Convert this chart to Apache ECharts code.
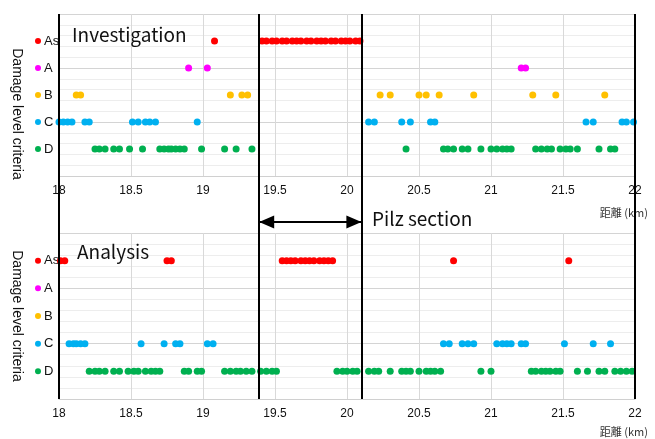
<!DOCTYPE html>
<html>
<head>
<meta charset="utf-8">
<script src="https://cdn.jsdelivr.net/npm/echarts@6/dist/echarts.min.js"></script>
<style>html,body{margin:0;padding:0;background:#fff}#c{width:655px;height:439px}</style>
</head>
<body>
<div id="c"></div>
<script>
// ---- data ----
var levelNames = ['', 'D', 'C', 'B', 'A', 'As', ''];
var levelColors = { As: '#FF0000', A: '#FF00FF', B: '#FFC000', C: '#00B0F0', D: '#00B050' };
var xTicks = [18, 18.5, 19, 19.5, 20, 20.5, 21, 21.5, 22];
var sectionBounds = [19.39, 20.1];
var frameLines = [18, 22];

// Investigation (top)
var invAs = [19.08, 19.41, 19.44, 19.48, 19.51, 19.55, 19.58, 19.62, 19.65, 19.68, 19.72, 19.75, 19.79, 19.82, 19.85, 19.89, 19.92, 19.96, 19.99, 20.02, 20.06, 20.09];
var invA = [18.90, 19.03, 21.21, 21.24];
var invB = [18.12, 18.15, 19.19, 19.27, 19.31, 20.23, 20.30, 20.50, 20.55, 20.64, 20.88, 21.29, 21.45, 21.79];
var invC = [18.00, 18.03, 18.06, 18.09, 18.18, 18.21, 18.51, 18.55, 18.60, 18.63, 18.67, 18.96, 20.15, 20.19, 20.38, 20.44, 20.58, 20.61, 21.66, 21.71, 21.91, 21.94, 21.99];
var invD = [18.25, 18.28, 18.32, 18.38, 18.42, 18.49, 18.58, 18.70, 18.73, 18.76, 18.78, 18.81, 18.84, 18.87, 18.99, 19.15, 19.23, 19.34, 20.41, 20.67, 20.70, 20.74, 20.80, 20.84, 20.93, 21.00, 21.04, 21.08, 21.11, 21.14, 21.31, 21.35, 21.39, 21.42, 21.48, 21.52, 21.55, 21.60, 21.75, 21.83, 21.86];

// Analysis (bottom)
var anaAs = [18.01, 18.04, 18.75, 18.78, 19.55, 19.58, 19.61, 19.64, 19.68, 19.71, 19.74, 19.77, 19.81, 19.84, 19.87, 19.90, 20.74, 21.54];
var anaA = [];
var anaB = [];
var anaC = [18.07, 18.10, 18.12, 18.15, 18.18, 18.57, 18.73, 18.81, 18.84, 19.03, 19.07, 20.67, 20.71, 20.80, 20.84, 20.88, 21.04, 21.08, 21.11, 21.14, 21.21, 21.24, 21.51, 21.71, 21.83];
var anaD = [18.21, 18.25, 18.28, 18.32, 18.38, 18.42, 18.48, 18.52, 18.55, 18.60, 18.64, 18.67, 18.70, 18.87, 18.90, 18.96, 18.99, 19.15, 19.19, 19.23, 19.26, 19.30, 19.34, 19.40, 19.44, 19.48, 19.51, 19.93, 19.97, 20.00, 20.04, 20.07, 20.15, 20.19, 20.22, 20.30, 20.38, 20.41, 20.44, 20.50, 20.55, 20.58, 20.61, 20.65, 20.93, 21.00, 21.28, 21.31, 21.35, 21.38, 21.41, 21.45, 21.48, 21.60, 21.67, 21.75, 21.79, 21.86, 21.90, 21.94, 21.98];

var arrowLevel = 0.46;

// ---- chart ----
var chart = echarts.init(document.getElementById('c'), null, { renderer: 'canvas' });
var FONT = 'Liberation Sans';

function gridX(gi, nameBottomPad) {
  return {
    type: 'value', gridIndex: gi, min: 18, max: 22, interval: 0.5,
    axisTick: { show: false },
    axisLine: { show: true, lineStyle: { color: '#d0d0d0', width: 1 } },
    axisLabel: { color: '#111', fontSize: 12, fontFamily: FONT, margin: 9,
      customValues: xTicks },
    splitLine: { show: true, lineStyle: { color: '#d9d9d9', width: 1 } },
    name: '距離 (km)', nameLocation: 'end', nameGap: 13,
    nameTextStyle: { fontFamily: 'Noto Sans CJK JP', fontSize: 11, color: '#333', align: 'right', verticalAlign: 'top', padding: [nameBottomPad, 0, 0, 0] }
  };
}
function gridY(gi) {
  return {
    type: 'value', gridIndex: gi, min: 0, max: 6, interval: 2, position: 'left',
    axisLine: { show: false }, axisTick: { show: false }, axisLabel: { show: false },
    splitLine: { show: true, lineStyle: { color: '#d4d4d4', width: 1 } },
    minorTick: { show: false, splitNumber: 5 },
    minorSplitLine: { show: true, lineStyle: { color: '#ededed', width: 1 } }
  };
}
var rich = { t: { fontSize: 13, fontFamily: FONT, color: '#111', padding: [0, 0, 0, 3] } };
Object.keys(levelColors).forEach(function (k) {
  rich['d' + k] = { width: 6, height: 6, borderRadius: 3, backgroundColor: levelColors[k] };
});
function labelY(gi, namePad) {
  return {
    type: 'value', gridIndex: gi, min: 0, max: 6, interval: 1, position: 'left',
    axisLine: { show: false }, axisTick: { show: false }, splitLine: { show: false },
    axisLabel: {
      show: true, align: 'left', margin: 24,
      formatter: function (v) {
        var n = levelNames[Math.round(v)];
        return n ? '{d' + n + '|}{t|' + n + '}' : '';
      },
      rich: rich
    },
    name: 'Damage level criteria', nameLocation: 'middle', nameRotate: -90, nameGap: 32,
    nameTextStyle: { fontFamily: FONT, fontSize: 14, color: '#111', padding: namePad }
  };
}
function sc(name, data, level, xi, yi) {
  return {
    type: 'scatter', name: name, xAxisIndex: xi, yAxisIndex: yi,
    symbolSize: 7, itemStyle: { color: levelColors[name], opacity: 1 },
    data: data.map(function (x) { return [x, level]; }), silent: true
  };
}

var series = [];
[['As', invAs, 5], ['A', invA, 4], ['B', invB, 3], ['C', invC, 2], ['D', invD, 1]].forEach(function (s) { series.push(sc(s[0], s[1], s[2], 0, 1)); });
[['As', anaAs, 5], ['A', anaA, 4], ['B', anaB, 3], ['C', anaC, 2], ['D', anaD, 1]].forEach(function (s) { series.push(sc(s[0], s[1], s[2], 1, 3)); });

series.push({
  type: 'scatter', xAxisIndex: 2, yAxisIndex: 4, data: [], silent: true,
  markLine: {
    silent: true, symbol: 'none', label: { show: false },
    lineStyle: { color: '#000', width: 2, type: 'solid' },
    data: frameLines.concat(sectionBounds).map(function (v) { return { xAxis: v }; })
  }
});
series.push({
  type: 'scatter', xAxisIndex: 2, yAxisIndex: 4, data: [], silent: true,
  markLine: {
    silent: true, symbol: 'none', label: { show: false },
    lineStyle: { color: '#000', width: 2, type: 'solid' },
    data: [[{ coord: [sectionBounds[0], arrowLevel] }, { coord: [sectionBounds[1], arrowLevel] }]]
  },
  markPoint: {
    silent: true, symbol: 'triangle', symbolSize: [13, 15], label: { show: false },
    itemStyle: { color: '#000' },
    data: [
      { coord: [sectionBounds[0], arrowLevel], symbolRotate: 90, symbolOffset: [7.5, 0] },
      { coord: [sectionBounds[1], arrowLevel], symbolRotate: -90, symbolOffset: [-7.5, 0] }
    ]
  }
});

var titleStyle = { fontFamily: 'Noto Sans CJK JP', fontSize: 19, fontWeight: 'normal', color: '#111' };
chart.setOption({
  animation: false,
  backgroundColor: '#fff',
  title: [
    { text: 'Investigation', left: 72, top: 25, padding: 0, textStyle: titleStyle },
    { text: 'Analysis', left: 77, top: 242, padding: 0, textStyle: titleStyle },
    { text: 'Pilz section', left: 372, top: 209, padding: 0, textStyle: titleStyle }
  ],
  grid: [
    { left: 59, right: 20, top: 14, height: 162 },
    { left: 59, right: 20, top: 233, height: 166 },
    { left: 59, right: 20, top: 14, height: 385 }
  ],
  xAxis: [gridX(0, 31), gridX(1, 27),
    { type: 'value', gridIndex: 2, min: 18, max: 22, show: false }],
  yAxis: [gridY(0), labelY(0, [0, 0, 0, 38]), gridY(1), labelY(1, 0),
    { type: 'value', gridIndex: 2, min: 0, max: 1, show: false }],
  series: series
});
</script>
</body>
</html>
